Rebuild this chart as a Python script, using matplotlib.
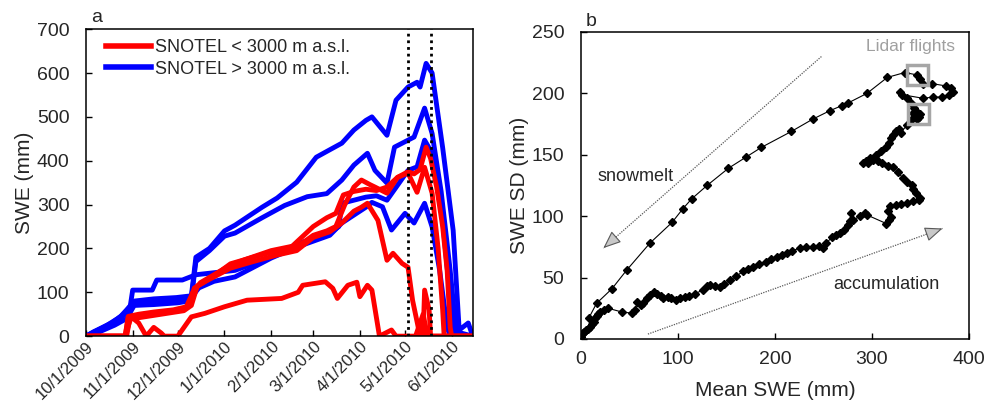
import matplotlib
matplotlib.use('Agg')
import matplotlib.pyplot as plt
import matplotlib.dates as mdates
import pandas as pd
from matplotlib.patches import Rectangle
from matplotlib.ticker import FuncFormatter

plt.rcParams['font.family'] = ['Liberation Sans', 'DejaVu Sans']

# ---- panel a : SNOTEL SWE (mm), water year 2010, dates as MM-DD
# stations below 3000 m
red1_md = ['10-01', '10-27', '10-29', '11-03', '11-12', '11-25', '12-06', '12-11', '12-16', '12-25',
           '01-05', '01-15', '02-01', '02-15', '03-01', '03-10', '03-16', '03-21', '03-28', '04-05',
           '04-12', '04-19', '04-26', '05-03', '05-07', '05-11', '05-15', '05-18', '05-22', '05-26',
           '05-29', '05-31', '06-01', '06-15']
red1_swe = [0, 0, 40, 45, 50, 55, 62, 100, 122, 140,
            162, 175, 195, 205, 250, 270, 280, 322, 330, 335,
            332, 340, 362, 375, 370, 380, 431, 405, 340, 250,
            150, 20, 0, 0]
red2_md = ['10-01', '10-27', '10-29', '11-05', '11-15', '11-28', '12-08', '12-12', '12-17', '12-28',
           '01-05', '01-20', '02-05', '02-18', '03-01', '03-10', '03-16', '03-22', '03-28', '04-02',
           '04-08', '04-11', '04-19', '04-26', '05-03', '05-09', '05-14', '05-19', '05-23', '05-26',
           '05-27', '06-15']
red2_swe = [0, 0, 45, 50, 55, 60, 68, 110, 120, 145,
            165, 180, 195, 203, 230, 240, 250, 300, 340, 356,
            345, 340, 326, 362, 372, 328, 385, 326, 200, 60,
            0, 0]
red3_md = ['10-01', '10-28', '10-30', '11-05', '11-20', '12-05', '12-10', '12-14', '12-25', '01-05',
           '01-20', '02-05', '02-18', '03-01', '03-12', '03-20', '03-28', '04-02', '04-06', '04-13',
           '04-19', '04-23', '04-29', '05-03', '05-06', '05-11', '05-13', '05-14', '05-17', '05-18',
           '06-15']
red3_swe = [0, 0, 40, 42, 50, 58, 70, 115, 135, 155,
            170, 185, 195, 225, 238, 258, 285, 294, 303, 264,
            173, 189, 166, 157, 82, 0, 0, 105, 60, 0,
            0]
red4_md = ['10-01', '10-27', '10-31', '11-05', '11-10', '11-15', '11-20', '11-22', '12-01', '12-10',
           '12-19', '01-01', '01-16', '02-08', '02-19', '02-22', '03-09', '03-14', '03-17', '03-24',
           '03-30', '04-01', '04-06', '04-09', '04-14', '04-22', '04-25', '05-08', '05-13', '05-16',
           '06-15']
red4_swe = [0, 0, 44, 30, 0, 20, 7, 0, 0, 44,
            52, 67, 82, 86, 100, 116, 124, 109, 86, 116,
            123, 90, 116, 105, 0, 14, 0, 0, 50, 0,
            0]

# stations above 3000 m
blue1_md = ['10-01', '10-06', '10-12', '10-18', '10-24', '10-28', '11-02', '11-15', '11-30', '12-10',
            '12-13', '12-22', '01-01', '01-08', '01-26', '02-05', '02-18', '03-03', '03-12', '03-20',
            '03-28', '04-05', '04-09', '04-19', '04-25', '05-03', '05-09', '05-11', '05-15', '05-19',
            '05-26', '06-02', '06-06', '06-12', '06-15']
blue1_swe = [0, 10, 20, 30, 45, 60, 80, 85, 88, 92,
             180, 200, 240, 253, 294, 315, 351, 408, 425, 440,
             470, 492, 500, 458, 538, 568, 579, 568, 622, 600,
             430, 241, 14, 30, 0]
blue2_md = ['10-01', '10-08', '10-15', '10-22', '10-28', '11-02', '11-15', '12-01', '12-10', '12-13',
            '12-22', '01-01', '01-08', '01-26', '02-10', '02-25', '03-10', '03-20', '03-28', '04-06',
            '04-11', '04-19', '04-24', '05-07', '05-14', '05-19', '05-25', '05-31', '06-04', '06-15']
blue2_swe = [0, 12, 25, 40, 55, 75, 78, 82, 86, 170,
             195, 228, 235, 270, 298, 318, 325, 356, 390, 417,
             378, 349, 431, 454, 520, 462, 330, 150, 10, 0]
blue3_md = ['10-01', '10-10', '10-18', '10-25', '10-30', '11-01', '11-14', '11-17', '12-04', '12-13',
            '01-08', '02-01', '02-18', '03-12', '03-18', '03-20', '04-05', '04-12', '04-19', '05-03',
            '05-09', '05-14', '05-19', '05-25', '05-30', '06-03', '06-15']
blue3_swe = [0, 15, 25, 45, 60, 105, 105, 128, 128, 140,
             150, 180, 210, 235, 250, 303, 317, 320, 310, 378,
             386, 447, 417, 300, 120, 0, 0]
blue4_md = ['10-01', '10-10', '10-20', '10-28', '11-02', '11-15', '12-01', '12-08', '12-15', '12-25',
            '01-08', '02-01', '02-18', '03-12', '03-20', '04-05', '04-09', '04-16', '04-22', '05-01',
            '05-07', '05-14', '05-19', '05-24', '05-29', '05-31', '06-15']
blue4_swe = [0, 10, 25, 40, 70, 72, 76, 80, 110, 125,
             135, 178, 203, 230, 258, 294, 305, 295, 242, 280,
             258, 303, 249, 150, 20, 0, 0]

flight_md = ['05-03', '05-18']

# ---- panel b : basin mean SWE vs SWE standard deviation (mm), in time order
mean_swe = [0, 1, 2, 3, 5, 7, 9, 11, 13, 14, 16, 18, 20, 24, 28, 42, 53, 56, 58, 62,
            64, 68, 71, 75, 78, 82, 85, 90, 93, 98, 102, 107, 111, 118, 126, 130, 133, 138, 143, 148,
            154, 160, 167, 172, 177, 184, 191, 196, 202, 207, 212, 218, 226, 232, 239, 246, 250, 253, 259, 263,
            267, 271, 275, 277, 279, 281, 288, 293, 295, 315, 318, 320, 317, 319, 325, 330, 336, 342, 349, 350,
            346, 343, 341, 336, 332, 327, 322, 317, 311, 306, 301, 296, 291, 294, 298, 304, 310, 315, 318, 320,
            322, 325, 328, 330, 336, 340, 343, 346, 349, 350, 347, 345, 344, 340, 336, 329, 331, 353, 363, 372,
            380, 384, 382, 377, 362, 353, 350, 347, 334, 316, 295, 275, 269, 257, 239, 217, 186, 170, 152, 130,
            114, 105, 94, 71, 47, 32, 16, 8]
swe_sd = [2, 4, 5, 6, 7, 8, 10, 12, 14, 17, 19, 20, 22, 24, 25, 22, 21, 24, 30, 28,
          29, 33, 36, 38, 37, 35, 33, 34, 33, 32, 33, 34, 35, 37, 40, 43, 44, 43, 42, 45,
          48, 51, 55, 57, 59, 61, 63, 65, 67, 68, 70, 72, 74, 75, 75, 76, 74, 78, 83, 85,
          86, 89, 93, 96, 103, 97, 100, 103, 101, 94, 97, 99, 104, 108, 109, 110, 111, 112, 113, 115,
          119, 122, 125, 128, 131, 136, 140, 141, 143, 145, 146, 143, 143, 145, 147, 150, 153, 156, 160, 164,
          166, 169, 171, 168, 174, 178, 184, 186, 181, 183, 179, 181, 188, 192, 196, 201, 199, 196, 197, 197,
          199, 201, 204, 206, 208, 208, 212, 215, 217, 213, 200, 192, 190, 186, 179, 169, 156, 148, 139, 125,
          114, 106, 95, 78, 56, 41, 29, 17]

lidar_mean = [347, 348]
lidar_sd = [215, 183]


def to_dates(md):
    return pd.to_datetime([('2009-' if int(s[:2]) >= 10 else '2010-') + s for s in md])


fig = plt.figure(figsize=(9.89, 4.05), dpi=100)
ax1 = fig.add_axes([0.087, 0.170, 0.391, 0.758])
ax2 = fig.add_axes([0.5875, 0.163, 0.392, 0.758])

TXT = '#262626'
RED = '#ff0000'
BLUE = '#0000ff'

# panel a
for md, swe in [(blue1_md, blue1_swe), (blue2_md, blue2_swe), (blue3_md, blue3_swe), (blue4_md, blue4_swe)]:
    ax1.plot(to_dates(md), swe, color=BLUE, lw=3.5, solid_joinstyle='round')
for md, swe in [(red1_md, red1_swe), (red2_md, red2_swe), (red3_md, red3_swe), (red4_md, red4_swe)]:
    ax1.plot(to_dates(md), swe, color=RED, lw=3.5, solid_joinstyle='round')

for d in to_dates(flight_md):
    ax1.axvline(d, color='black', lw=2, linestyle=(0, (1, 1.4)), zorder=5)

ax1.plot([], [], color=RED, lw=4, label='SNOTEL < 3000 m a.s.l.')
ax1.plot([], [], color=BLUE, lw=4, label='SNOTEL > 3000 m a.s.l.')
ax1.legend(loc='upper left', frameon=False, fontsize=13, handlelength=2.5, handletextpad=0.2,
           labelspacing=0.25, bbox_to_anchor=(0.01, 1.02), labelcolor=TXT)

ax1.set_xlim(pd.Timestamp('2009-10-01'), pd.Timestamp('2010-06-15'))
ax1.set_ylim(0, 700)
ax1.set_yticks(range(0, 701, 100))
ax1.xaxis.set_major_locator(mdates.MonthLocator())
ax1.xaxis.set_major_formatter(FuncFormatter(
    lambda v, p: '{0.month}/{0.day}/{0.year}'.format(mdates.num2date(v))))
ax1.tick_params(axis='x', labelsize=12, pad=2)
for lab in ax1.get_xticklabels():
    lab.set_rotation(45)
    lab.set_ha('right')
    lab.set_rotation_mode('anchor')
ax1.tick_params(axis='y', labelsize=14, pad=12)
ax1.set_ylabel('SWE (mm)', fontsize=15, color=TXT, labelpad=2)
ax1.text(0.012, 1.01, 'a', transform=ax1.transAxes, fontsize=14, color=TXT, va='bottom')

# panel b
ax2.plot(mean_swe, swe_sd, color='black', lw=0.8, marker='D', markersize=4.4, zorder=3)
for mx, sy in zip(lidar_mean, lidar_sd):
    ax2.add_patch(Rectangle((mx - 10.5, sy - 8), 21, 16, fill=False, edgecolor='#a6a6a6', lw=2.5, zorder=4))
ax2.text(294, 238, 'Lidar flights', fontsize=12.5, color='#a0a0a0', va='center')

# trend arrows
head = dict(arrowstyle='-|>,head_length=1.1,head_width=0.45', ec='#595959', fc='#c8c8c8',
            lw=0.8, shrinkA=0, shrinkB=0)
ax2.plot([248, 23], [230, 74], color='#595959', lw=0.9, linestyle=(0, (1, 1)))
ax2.annotate('', xy=(23, 74), xytext=(36, 83), arrowprops=head)
ax2.plot([69, 373], [4, 90], color='#595959', lw=0.9, linestyle=(0, (1, 1)))
ax2.annotate('', xy=(373, 90), xytext=(356, 85.2), arrowprops=head)
ax2.text(17, 132, 'snowmelt', fontsize=13, color=TXT, va='center')
ax2.text(260, 44, 'accumulation', fontsize=13, color=TXT, va='center')

ax2.set_xlim(0, 400)
ax2.set_ylim(0, 250)
ax2.set_xticks(range(0, 401, 100))
ax2.set_yticks(range(0, 251, 50))
ax2.tick_params(axis='x', labelsize=14, pad=9)
ax2.tick_params(axis='y', labelsize=14, pad=12)
ax2.set_xlabel('Mean SWE (mm)', fontsize=15, color=TXT, labelpad=9)
ax2.set_ylabel('SWE SD (mm)', fontsize=15, color=TXT, labelpad=2)
ax2.text(0.012, 1.005, 'b', transform=ax2.transAxes, fontsize=14, color=TXT, va='bottom')

for ax in (ax1, ax2):
    ax.tick_params(direction='in', length=4, width=1, colors='black', labelcolor=TXT)
    for sp in ax.spines.values():
        sp.set_linewidth(1.1)

fig.savefig('out.png', dpi=100)
